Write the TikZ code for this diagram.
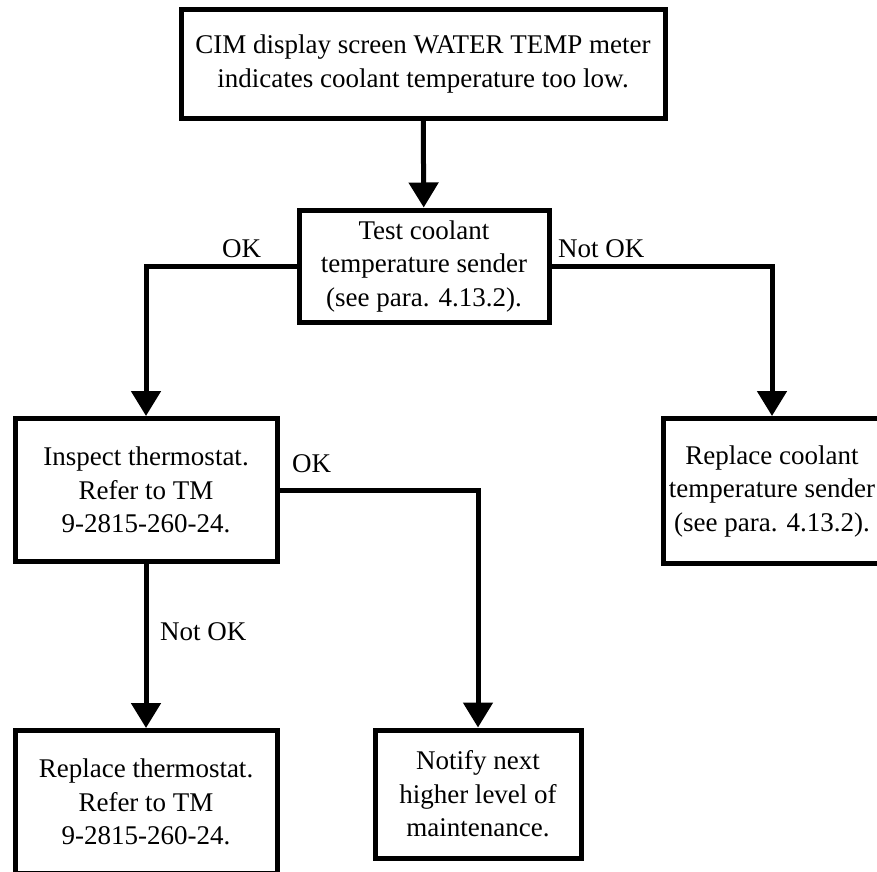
\documentclass[tikz,border=0pt]{standalone}
\usepackage{fontspec}
\setmainfont{Liberation Serif}
\usetikzlibrary{arrows.meta}

\begin{document}
\begin{tikzpicture}[
  x=1pt, y=1pt,
  box/.style={rectangle, draw, line width=5pt, fill=white, align=center, inner sep=0pt, font=\fontsize{27}{33.5}\selectfont},
  lbl/.style={font=\fontsize{27}{33.5}\selectfont, inner sep=0pt, anchor=base west},
  arrow/.style={-{Triangle[width=29pt,length=25pt]}, line width=5pt}
]
\useasboundingbox (0,0) rectangle (877,-871);
\clip (0,0) rectangle (877,-871);
\fill[white] (0,0) rectangle (877,-871);

\node[box, minimum width=484pt, minimum height=109pt] (lowtemp) at (423,-64) {CIM display screen WATER TEMP meter\\indicates coolant temperature too low.};
\node[box, minimum width=250pt, minimum height=112pt] (sendertest) at (424,-266) {Test coolant\\temperature sender\\(see para. 4.13.2).};
\node[box, minimum width=262pt, minimum height=143pt] (thermocheck) at (146,-490) {Inspect thermostat.\\Refer to TM\\9-2815-260-24.};
\node[box, minimum width=217pt, minimum height=145pt] (senderswap) at (772,-491) {Replace coolant\\temperature sender\\(see para. 4.13.2).};
\node[box, minimum width=262pt, minimum height=143pt] (thermoswap) at (146,-802) {Replace thermostat.\\Refer to TM\\9-2815-260-24.};
\node[box, minimum width=206pt, minimum height=128pt] (notify) at (478,-794) {Notify next\\higher level of\\maintenance.};

\draw[arrow] (lowtemp) -- (sendertest);
\draw[arrow] (sendertest.west) -| (thermocheck);
\draw[arrow] (sendertest.east) -| (senderswap);
\draw[arrow] (thermocheck.east) -| (notify);
\draw[arrow] (thermocheck) -- (thermoswap);

\node[lbl] (okone) at (222,-257) {OK};
\node[lbl] (notokone) at (558,-257) {Not OK};
\node[lbl] (oktwo) at (292,-472) {OK};
\node[lbl] (notoktwo) at (160,-640) {Not OK};
\end{tikzpicture}
\end{document}
